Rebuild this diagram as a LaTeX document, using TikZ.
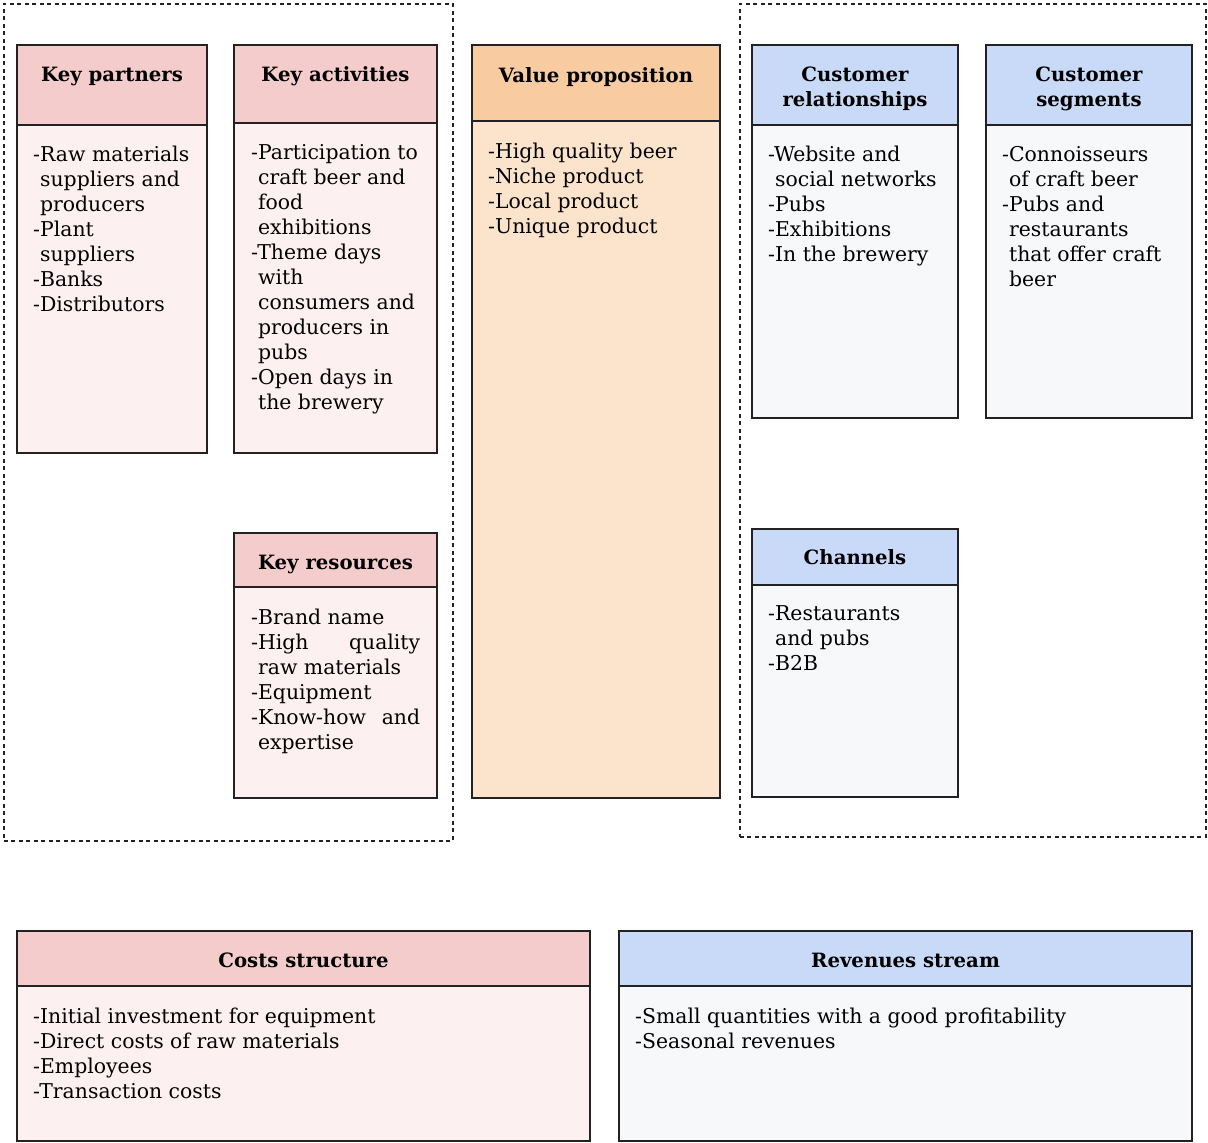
\documentclass[tikz,border=0pt]{standalone}
\usepackage{fontspec}
\setmainfont{DejaVu Serif}
\definecolor{pinkH}{HTML}{F4CCCC}
\definecolor{pinkB}{HTML}{FDF0F0}
\definecolor{oraH}{HTML}{F8CBA0}
\definecolor{oraB}{HTML}{FCE4CC}
\definecolor{bluH}{HTML}{C9DAF8}
\definecolor{bluB}{HTML}{F7F8FA}
\definecolor{edge}{HTML}{222222}
\newcommand\ind{\hphantom{-}}
\newcommand\lines[1]{\parbox[t]{600pt}{\raggedright #1}}
\tikzset{
  box/.style={draw=edge, line width=1.8pt, inner sep=0pt, outer sep=0pt, anchor=north west},
  ttl/.style={anchor=base, inner sep=0pt, align=center, font=\bfseries\fontsize{19.7}{25}\selectfont},
  txt/.style={anchor=base west, inner sep=0pt, font=\fontsize{20.4}{25}\selectfont},
  group/.style={draw=edge, line width=1.6pt, dash pattern=on 4pt off 3.5pt, inner sep=0pt, anchor=north west}
}
\begin{document}
\begin{tikzpicture}[x=1pt,y=-1pt]
\useasboundingbox (0,0) rectangle (1208,1143);
% dashed groups
\node[group, minimum width=449pt, minimum height=837pt] (gl) at (3,3) {};
\node[group, minimum width=466pt, minimum height=833pt] (gr) at (739,3) {};

% Key partners
\node[box, fill=pinkH, minimum width=190pt, minimum height=80pt] (kpH) at (17,45) {};
\node[box, fill=pinkB, minimum width=190pt, minimum height=328pt] (kpB) at (17,125) {};
\node[ttl] (kpT) at (112,81) {Key partners};
\node[txt] (kpX) at (33,161) {\lines{-Raw materials\\\ind suppliers and\\\ind producers\\-Plant\\\ind suppliers\\-Banks\\-Distributors}};

% Key activities
\node[box, fill=pinkH, minimum width=203pt, minimum height=78pt] (kaH) at (234,45) {};
\node[box, fill=pinkB, minimum width=203pt, minimum height=330pt] (kaB) at (234,123) {};
\node[ttl] (kaT) at (335.5,81) {Key activities};
\node[txt] (kaX) at (251,159) {\lines{-Participation to\\\ind craft beer and\\\ind food\\\ind exhibitions\\-Theme days\\\ind with\\\ind consumers and\\\ind producers in\\\ind pubs\\-Open days in\\\ind the brewery}};

% Key resources
\node[box, fill=pinkH, minimum width=203pt, minimum height=54pt] (krH) at (234,533) {};
\node[box, fill=pinkB, minimum width=203pt, minimum height=211pt] (krB) at (234,587) {};
\node[ttl] (krT) at (335.5,569) {Key resources};
\node[txt] (krX) at (251,624) {\lines{-Brand name\\\makebox[169pt][s]{-High quality}\\\ind raw materials\\-Equipment\\\makebox[169pt][s]{-Know-how and}\\\ind expertise}};

% Value proposition
\node[box, fill=oraH, minimum width=248pt, minimum height=76pt] (vpH) at (472,45) {};
\node[box, fill=oraB, minimum width=248pt, minimum height=677pt] (vpB) at (472,121) {};
\node[ttl] (vpT) at (596,82) {Value proposition};
\node[txt] (vpX) at (488,158) {\lines{-High quality beer\\-Niche product\\-Local product\\-Unique product}};

% Customer relationships
\node[box, fill=bluH, minimum width=206pt, minimum height=80pt] (crH) at (752,45) {};
\node[box, fill=bluB, minimum width=206pt, minimum height=293pt] (crB) at (752,125) {};
\node[ttl] (crT) at (855,106) {Customer\\relationships};
\node[txt] (crX) at (768,161) {\lines{-Website and\\\ind social networks\\-Pubs\\-Exhibitions\\-In the brewery}};

% Customer segments
\node[box, fill=bluH, minimum width=206pt, minimum height=80pt] (csH) at (986,45) {};
\node[box, fill=bluB, minimum width=206pt, minimum height=293pt] (csB) at (986,125) {};
\node[ttl] (csT) at (1089,106) {Customer\\segments};
\node[txt] (csX) at (1002,161) {\lines{-Connoisseurs\\\ind of craft beer\\-Pubs and\\\ind restaurants\\\ind that offer craft\\\ind beer}};

% Channels
\node[box, fill=bluH, minimum width=206pt, minimum height=56pt] (chH) at (752,529) {};
\node[box, fill=bluB, minimum width=206pt, minimum height=212pt] (chB) at (752,585) {};
\node[ttl] (chT) at (855,564) {Channels};
\node[txt] (chX) at (768,620) {\lines{-Restaurants\\\ind and pubs\\-B2B}};

% Costs structure
\node[box, fill=pinkH, minimum width=573pt, minimum height=55pt] (coH) at (17,931) {};
\node[box, fill=pinkB, minimum width=573pt, minimum height=155pt] (coB) at (17,986) {};
\node[ttl] (coT) at (303.5,967) {Costs structure};
\node[txt] (coX) at (33,1023) {\lines{-Initial investment for equipment\\-Direct costs of raw materials\\-Employees\\-Transaction costs}};

% Revenues stream
\node[box, fill=bluH, minimum width=573pt, minimum height=55pt] (reH) at (619,931) {};
\node[box, fill=bluB, minimum width=573pt, minimum height=155pt] (reB) at (619,986) {};
\node[ttl] (reT) at (905.5,967) {Revenues stream};
\node[txt] (reX) at (635,1023) {\lines{-Small quantities with a good profitability\\-Seasonal revenues}};
\end{tikzpicture}
\end{document}
